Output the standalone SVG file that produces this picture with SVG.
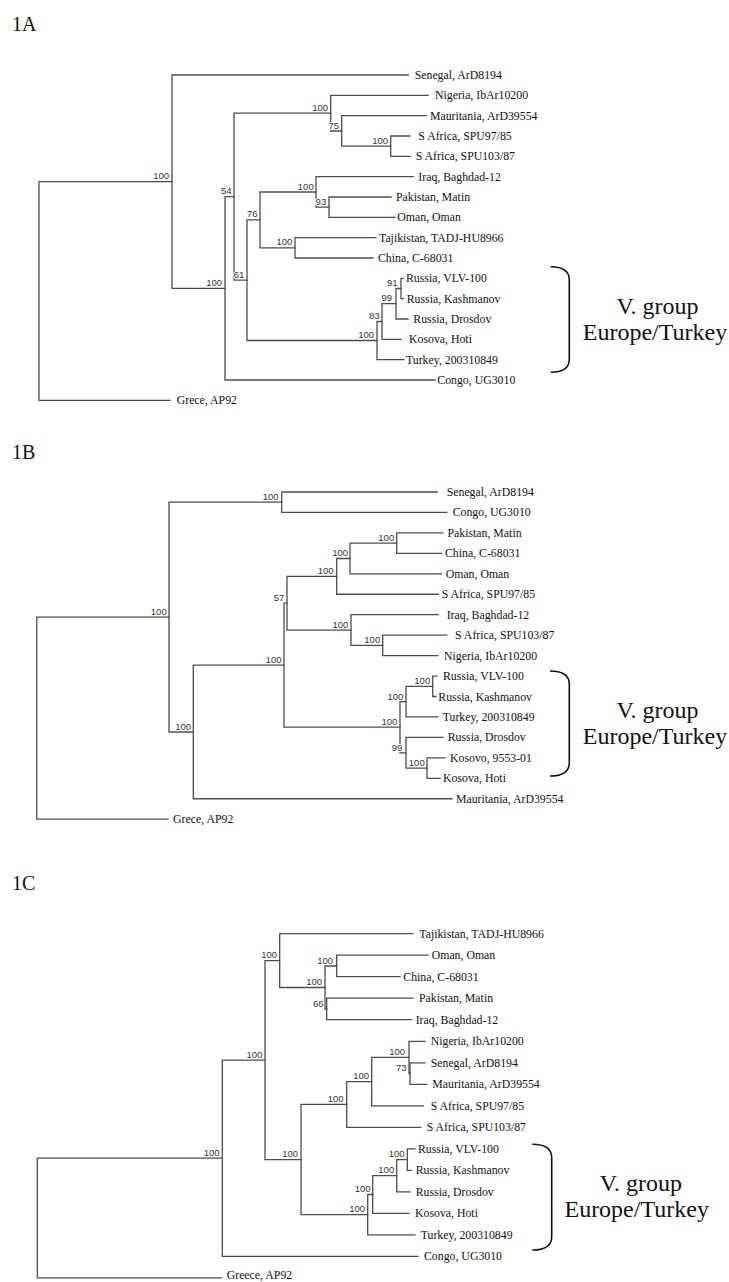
<svg xmlns="http://www.w3.org/2000/svg" width="729" height="1282" viewBox="0 0 729 1282">
<style>
.br{stroke:#4d4d4d;stroke-width:1.3;fill:none;stroke-linecap:square}
.lf{font-family:"Liberation Serif",serif;font-size:11.8px;fill:#111}
.bs{font-family:"Liberation Sans",sans-serif;font-size:9.5px;fill:#333;text-anchor:end;stroke:#fff;stroke-width:2;paint-order:stroke}
.grp{font-family:"Liberation Serif",serif;font-size:24px;fill:#111;text-anchor:middle}
.brk{stroke:#111;stroke-width:1.6;fill:none}
.ttl{font-family:"Liberation Serif",serif;font-size:20px;fill:#111}
</style>
<rect width="729" height="1282" fill="#fff"/>

<!-- ===================== PANEL 1A ===================== -->
<g id="panel-1A">
<text id="title-1A" class="ttl" x="12" y="31">1A</text>
<g id="connectors-1A" class="br">
<path d="M39 181.7V400.3M39 181.7H172M39 400.3H170"/>
<path d="M172 75V288.3M172 75H408.3M172 288.3H225"/>
<path d="M225 196.7V380M225 196.7H234M225 380H435"/>
<path d="M234 113.1V280.2M234 113.1H330.7M234 280.2H247"/>
<path d="M330.7 95.3V131M330.7 95.3H428.3M330.7 131H341.7"/>
<path d="M341.7 115.7V146.2M341.7 115.7H426M341.7 146.2H390.7"/>
<path d="M390.7 136V156.3M390.7 136H410M390.7 156.3H410"/>
<path d="M247 219.9V340.5M247 219.9H260M247 340.5H377"/>
<path d="M260 192V247.8M260 192H316M260 247.8H295"/>
<path d="M316 176.7V207.2M316 176.7H413.3M316 207.2H329"/>
<path d="M329 197V217.3M329 197H391M329 217.3H395"/>
<path d="M295 237.6V258M295 237.6H376M295 258H373"/>
<path d="M377 321.5V359.6M377 321.5H382M377 359.6H404"/>
<path d="M382 303.7V339.3M382 303.7H396M382 339.3H401"/>
<path d="M396 288.5V319M396 288.5H401M396 319H408"/>
<path d="M401 278.3V298.6M401 278.3H403.3M401 298.6H403.3"/>
</g>
<g id="support-1A">
<text id="n1A-a" class="bs" x="169" y="179.2">100</text>
<text id="n1A-b" class="bs" x="222" y="285.8">100</text>
<text id="n1A-c" class="bs" x="231.5" y="194.2">54</text>
<text id="n1A-d" class="bs" x="244.3" y="277.7">61</text>
<text id="n1A-e" class="bs" x="257.5" y="217.4">76</text>
<text id="n1A-n" class="bs" x="328" y="110.6">100</text>
<text id="n1A-m" class="bs" x="339" y="128.5">75</text>
<text id="n1A-sa" class="bs" x="388" y="143.7">100</text>
<text id="n1A-f" class="bs" x="313.7" y="189.5">100</text>
<text id="n1A-h" class="bs" x="326.2" y="204.7">93</text>
<text id="n1A-g" class="bs" x="292.3" y="245.3">100</text>
<text id="n1A-v" class="bs" x="374" y="338">100</text>
<text id="n1A-83" class="bs" x="379.7" y="319">83</text>
<text id="n1A-99" class="bs" x="392" y="301.2">99</text>
<text id="n1A-91" class="bs" x="397.5" y="286">91</text>
</g>
<g id="leaf-1A-senegal"><text class="lf" x="414.7" y="79">Senegal, ArD8194</text></g>
<g id="leaf-1A-nigeria"><text class="lf" x="435" y="99.3">Nigeria, IbAr10200</text></g>
<g id="leaf-1A-mauritania"><text class="lf" x="430" y="119.7">Mauritania, ArD39554</text></g>
<g id="leaf-1A-safrica97"><text class="lf" x="418.3" y="140">S Africa, SPU97/85</text></g>
<g id="leaf-1A-safrica103"><text class="lf" x="415.7" y="160.3">S Africa, SPU103/87</text></g>
<g id="leaf-1A-iraq"><text class="lf" x="418.3" y="180.7">Iraq, Baghdad-12</text></g>
<g id="leaf-1A-pakistan"><text class="lf" x="396" y="201">Pakistan, Matin</text></g>
<g id="leaf-1A-oman"><text class="lf" x="397.3" y="221.3">Oman, Oman</text></g>
<g id="leaf-1A-tajikistan"><text class="lf" x="379" y="241.6">Tajikistan, TADJ-HU8966</text></g>
<g id="leaf-1A-china"><text class="lf" x="378" y="262">China, C-68031</text></g>
<g id="leaf-1A-vlv"><text class="lf" x="406" y="282.3">Russia, VLV-100</text></g>
<g id="leaf-1A-kashmanov"><text class="lf" x="406.7" y="302.6">Russia, Kashmanov</text></g>
<g id="leaf-1A-drosdov"><text class="lf" x="413.3" y="323">Russia, Drosdov</text></g>
<g id="leaf-1A-kosova"><text class="lf" x="409" y="343.3">Kosova, Hoti</text></g>
<g id="leaf-1A-turkey"><text class="lf" x="406" y="363.6">Turkey, 200310849</text></g>
<g id="leaf-1A-congo"><text class="lf" x="437.3" y="384">Congo, UG3010</text></g>
<g id="leaf-1A-grece"><text class="lf" x="176.7" y="404.3">Grece, AP92</text></g>
<g id="group-1A">
<path class="brk" d="M550.7 266.7Q569.3 266.7 569.3 280V359.3Q569.3 372.3 550.7 372.3"/>
<text class="grp" x="657.5" y="313.5">V. group</text>
<text class="grp" x="655" y="339.5">Europe/Turkey</text>
</g>
</g>

<!-- ===================== PANEL 1B ===================== -->
<g id="panel-1B">
<text id="title-1B" class="ttl" x="12" y="459">1B</text>
<g id="connectors-1B" class="br">
<path d="M36.7 617.1V819.2M36.7 617.1H169M36.7 819.2H168"/>
<path d="M169 502.2V732M169 502.2H281.7M169 732H193.3"/>
<path d="M281.7 492V512.45M281.7 492H437.3M281.7 512.45H446.7"/>
<path d="M193.3 665.2V798.75M193.3 665.2H284M193.3 798.75H452"/>
<path d="M284 603.2V727.2M284 603.2H287M284 727.2H400"/>
<path d="M287 576.4V630.1M287 576.4H336.7M287 630.1H351"/>
<path d="M336.7 558.5V594.25M336.7 558.5H350M336.7 594.25H438.3"/>
<path d="M350 543.1V573.8M350 543.1H396.7M350 573.8H441.7"/>
<path d="M396.7 532.9V553.35M396.7 532.9H442.7M396.7 553.35H441.7"/>
<path d="M351 614.7V645.4M351 614.7H438.3M351 645.4H382.7"/>
<path d="M382.7 635.15V655.6M382.7 635.15H446.7M382.7 655.6H438"/>
<path d="M400 701.6V752.8M400 701.6H406M400 752.8H406"/>
<path d="M406 686.3V716.95M406 686.3H432.7M406 716.95H438"/>
<path d="M432.7 676.05V696.5M432.7 676.05H437M432.7 696.5H436"/>
<path d="M406 737.4V768.1M406 737.4H443M406 768.1H427"/>
<path d="M427 757.85V778.3M427 757.85H445M427 778.3H440"/>
</g>
<g id="support-1B">
<text id="n1B-a" class="bs" x="166.7" y="614.8">100</text>
<text id="n1B-s" class="bs" x="278.5" y="499.5">100</text>
<text id="n1B-b" class="bs" x="191" y="729.7">100</text>
<text id="n1B-c" class="bs" x="281.6" y="663">100</text>
<text id="n1B-d" class="bs" x="284.3" y="600.9">57</text>
<text id="n1B-e" class="bs" x="333.5" y="574">100</text>
<text id="n1B-g" class="bs" x="348" y="556">100</text>
<text id="n1B-h" class="bs" x="394.2" y="540.7">100</text>
<text id="n1B-f" class="bs" x="348.3" y="627.7">100</text>
<text id="n1B-i" class="bs" x="380.2" y="642.8">100</text>
<text id="n1B-v" class="bs" x="397.4" y="725.3">100</text>
<text id="n1B-v1" class="bs" x="403.4" y="699.5">100</text>
<text id="n1B-v11" class="bs" x="430.2" y="683.5">100</text>
<text id="n1B-99" class="bs" x="402.4" y="751">99</text>
<text id="n1B-k" class="bs" x="424.7" y="765.7">100</text>
</g>
<g id="leaf-1B-senegal"><text class="lf" x="446.7" y="496">Senegal, ArD8194</text></g>
<g id="leaf-1B-congo"><text class="lf" x="452.7" y="516.45">Congo, UG3010</text></g>
<g id="leaf-1B-pakistan"><text class="lf" x="447.5" y="536.9">Pakistan, Matin</text></g>
<g id="leaf-1B-china"><text class="lf" x="445" y="557.35">China, C-68031</text></g>
<g id="leaf-1B-oman"><text class="lf" x="445.7" y="577.8">Oman, Oman</text></g>
<g id="leaf-1B-safrica97"><text class="lf" x="441.7" y="598.25">S Africa, SPU97/85</text></g>
<g id="leaf-1B-iraq"><text class="lf" x="446.7" y="618.7">Iraq, Baghdad-12</text></g>
<g id="leaf-1B-safrica103"><text class="lf" x="455" y="639.15">S Africa, SPU103/87</text></g>
<g id="leaf-1B-nigeria"><text class="lf" x="444" y="659.6">Nigeria, IbAr10200</text></g>
<g id="leaf-1B-vlv"><text class="lf" x="443" y="680.05">Russia, VLV-100</text></g>
<g id="leaf-1B-kashmanov"><text class="lf" x="438.3" y="700.5">Russia, Kashmanov</text></g>
<g id="leaf-1B-turkey"><text class="lf" x="442.7" y="720.95">Turkey, 200310849</text></g>
<g id="leaf-1B-drosdov"><text class="lf" x="447.7" y="741.4">Russia, Drosdov</text></g>
<g id="leaf-1B-kosovo"><text class="lf" x="450" y="761.85">Kosovo, 9553-01</text></g>
<g id="leaf-1B-kosova"><text class="lf" x="443" y="782.3">Kosova, Hoti</text></g>
<g id="leaf-1B-mauritania"><text class="lf" x="456" y="802.75">Mauritania, ArD39554</text></g>
<g id="leaf-1B-grece"><text class="lf" x="173" y="823.2">Grece, AP92</text></g>
<g id="group-1B">
<path class="brk" d="M550 671Q569.3 671 569.3 684.3V762.7Q569.3 776 550 776"/>
<text class="grp" x="657.5" y="718">V. group</text>
<text class="grp" x="655" y="744">Europe/Turkey</text>
</g>
</g>

<!-- ===================== PANEL 1C ===================== -->
<g id="panel-1C">
<text id="title-1C" class="ttl" x="12" y="890">1C</text>
<g id="connectors-1C" class="br">
<path d="M37.3 1158.2V1277.9M37.3 1158.2H222.3M37.3 1277.9H221.7"/>
<path d="M222.3 1060.1V1256.4M222.3 1060.1H265M222.3 1256.4H418"/>
<path d="M265 960.6V1159.6M265 960.6H279.7M265 1159.6H301"/>
<path d="M279.7 933.7V987.5M279.7 933.7H413M279.7 987.5H325"/>
<path d="M325 966V1009M325 966H336.7M325 1009H326.7"/>
<path d="M336.7 955.2V976.7M336.7 955.2H428M336.7 976.7H400"/>
<path d="M326.7 998.2V1019.7M326.7 998.2H413M326.7 1019.7H411.7"/>
<path d="M301 1104.4V1214.7M301 1104.4H346.7M301 1214.7H367.7"/>
<path d="M346.7 1081.6V1127.3M346.7 1081.6H371.7M346.7 1127.3H420.7"/>
<path d="M371.7 1057.4V1105.8M371.7 1057.4H409M371.7 1105.8H423.3"/>
<path d="M409 1041.3V1073.5M409 1041.3H425M409 1073.5H410"/>
<path d="M410 1062.8V1084.3M410 1062.8H425M410 1084.3H426.7"/>
<path d="M367.7 1194.5V1234.8M367.7 1194.5H372.7M367.7 1234.8H415"/>
<path d="M372.7 1175.7V1213.3M372.7 1175.7H396.7M372.7 1213.3H409"/>
<path d="M396.7 1159.6V1191.8M396.7 1159.6H407.3M396.7 1191.8H410"/>
<path d="M407.3 1148.8V1170.3M407.3 1148.8H415M407.3 1170.3H411.7"/>
</g>
<g id="support-1C">
<text id="n1C-a" class="bs" x="219.5" y="1155.8">100</text>
<text id="n1C-b" class="bs" x="262.3" y="1057.8">100</text>
<text id="n1C-c" class="bs" x="277" y="958.3">100</text>
<text id="n1C-e" class="bs" x="322" y="985">100</text>
<text id="n1C-f" class="bs" x="333" y="963.5">100</text>
<text id="n1C-g" class="bs" x="323.5" y="1006.6">66</text>
<text id="n1C-d" class="bs" x="298" y="1157.2">100</text>
<text id="n1C-h" class="bs" x="343.5" y="1101.9">100</text>
<text id="n1C-i" class="bs" x="369" y="1079.2">100</text>
<text id="n1C-j" class="bs" x="405" y="1055">100</text>
<text id="n1C-k" class="bs" x="406.5" y="1071">73</text>
<text id="n1C-v" class="bs" x="365" y="1212.2">100</text>
<text id="n1C-v1" class="bs" x="370.5" y="1192">100</text>
<text id="n1C-v2" class="bs" x="394.2" y="1173.2">100</text>
<text id="n1C-v3" class="bs" x="404.5" y="1157">100</text>
</g>
<g id="leaf-1C-tajikistan"><text class="lf" x="419.3" y="937.7">Tajikistan, TADJ-HU8966</text></g>
<g id="leaf-1C-oman"><text class="lf" x="431.7" y="959.2">Oman, Oman</text></g>
<g id="leaf-1C-china"><text class="lf" x="403.3" y="980.7">China, C-68031</text></g>
<g id="leaf-1C-pakistan"><text class="lf" x="419" y="1002.2">Pakistan, Matin</text></g>
<g id="leaf-1C-iraq"><text class="lf" x="415.7" y="1023.7">Iraq, Baghdad-12</text></g>
<g id="leaf-1C-nigeria"><text class="lf" x="430.7" y="1045.3">Nigeria, IbAr10200</text></g>
<g id="leaf-1C-senegal"><text class="lf" x="430.7" y="1066.8">Senegal, ArD8194</text></g>
<g id="leaf-1C-mauritania"><text class="lf" x="432.3" y="1088.3">Mauritania, ArD39554</text></g>
<g id="leaf-1C-safrica97"><text class="lf" x="430.7" y="1109.8">S Africa, SPU97/85</text></g>
<g id="leaf-1C-safrica103"><text class="lf" x="426.7" y="1131.3">S Africa, SPU103/87</text></g>
<g id="leaf-1C-vlv"><text class="lf" x="418" y="1152.8">Russia, VLV-100</text></g>
<g id="leaf-1C-kashmanov"><text class="lf" x="415.7" y="1174.3">Russia, Kashmanov</text></g>
<g id="leaf-1C-drosdov"><text class="lf" x="415.7" y="1195.8">Russia, Drosdov</text></g>
<g id="leaf-1C-kosova"><text class="lf" x="415" y="1217.3">Kosova, Hoti</text></g>
<g id="leaf-1C-turkey"><text class="lf" x="420.7" y="1238.8">Turkey, 200310849</text></g>
<g id="leaf-1C-congo"><text class="lf" x="424" y="1260.4">Congo, UG3010</text></g>
<g id="leaf-1C-greece"><text class="lf" x="226.7" y="1279.2">Greece, AP92</text></g>
<g id="group-1C">
<path class="brk" d="M532.3 1144.3Q551.7 1144.3 551.7 1157.6V1236.7Q551.7 1250 532.3 1250"/>
<text class="grp" x="640.8" y="1190.5">V. group</text>
<text class="grp" x="636.7" y="1217">Europe/Turkey</text>
</g>
</g>
</svg>
